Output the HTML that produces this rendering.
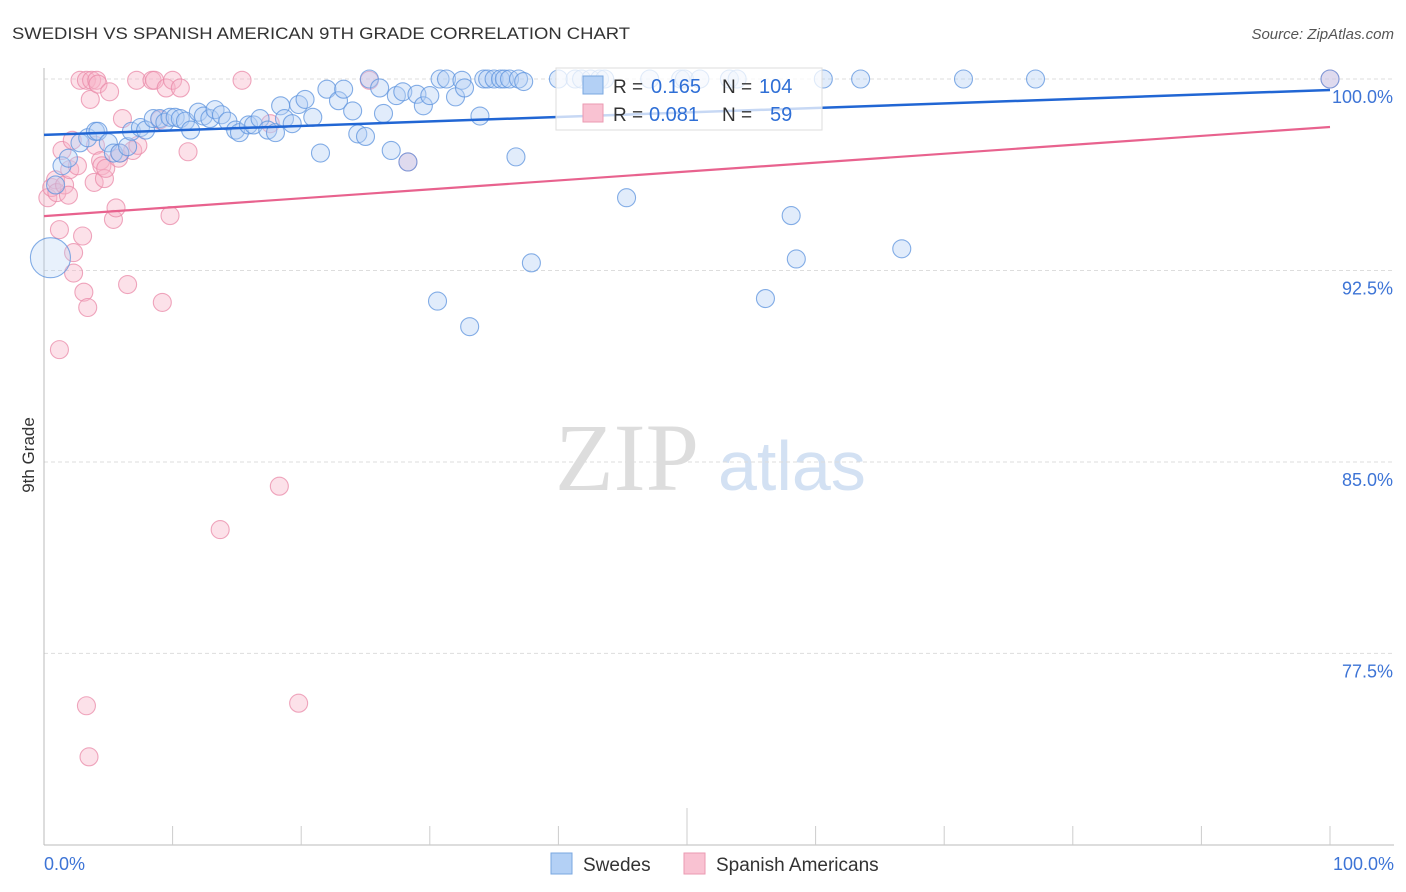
<!DOCTYPE html>
<html><head><meta charset="utf-8"><style>
body{margin:0;background:#fff;font-family:"Liberation Sans",sans-serif}
svg{display:block}
</style></head><body>
<svg id="c" width="1406" height="892" xmlns="http://www.w3.org/2000/svg">
<text x="12" y="39" font-size="17" fill="#333" textLength="618" lengthAdjust="spacingAndGlyphs">SWEDISH VS SPANISH AMERICAN 9TH GRADE CORRELATION CHART</text>
<text x="1394" y="39" font-size="15" fill="#555" font-style="italic" text-anchor="end">Source: ZipAtlas.com</text>
<text x="555" y="490" font-size="96" fill="#ddd" font-family="Liberation Serif,serif">ZIP</text>
<text x="718" y="490" font-size="70" fill="#d3e1f3">atlas</text>
<text transform="translate(34,455) rotate(-90)" font-size="17" fill="#333" text-anchor="middle">9th Grade</text>
<g id="grid"></g><g id="pts"></g><g id="lines"></g>
<g>
<rect x="556" y="68" width="266" height="62" fill="#fff" fill-opacity="0.75" stroke="#ddd"/>
<rect x="583" y="76" width="20" height="18" fill="#b3d0f5" stroke="#7aa7e0"/>
<rect x="583" y="104" width="20" height="18" fill="#f9c2d2" stroke="#eb9ab2"/>
<text x="613" y="93" font-size="19" fill="#333">R =</text>
<text x="651" y="93" font-size="20" fill="#2f6fd6">0.165</text>
<text x="722" y="93" font-size="19" fill="#333">N =</text>
<text x="759" y="93" font-size="20" fill="#2f6fd6">104</text>
<text x="613" y="121" font-size="19" fill="#333">R =</text>
<text x="649" y="121" font-size="20" fill="#2f6fd6">0.081</text>
<text x="722" y="121" font-size="19" fill="#333">N =</text>
<text x="770" y="121" font-size="20" fill="#2f6fd6">59</text>
</g>
<g>
<rect x="551" y="853" width="21" height="21" fill="#b3d0f5" stroke="#7aa7e0"/>
<text x="583" y="871" font-size="19" fill="#333">Swedes</text>
<rect x="684" y="853" width="21" height="21" fill="#f9c2d2" stroke="#eb9ab2"/>
<text x="716" y="871" font-size="19" fill="#333">Spanish Americans</text>
</g>
</svg>
<script>
const yTicks=[100,92.5,85,77.5];
const yTickLabels=["100.0%","92.5%","85.0%","77.5%"];
const xTickLabels=["0.0%","100.0%"];
const blueX=[0.5,0.9,1.4,1.9,2.8,3.4,4.0,4.2,5.0,5.4,5.9,6.5,6.8,7.5,7.9,8.5,9.0,9.4,9.8,10.2,10.6,11.0,11.4,12.0,12.4,12.9,13.3,13.8,14.3,14.9,15.2,15.9,16.3,16.8,17.4,18.0,18.4,18.7,19.3,19.8,20.3,20.9,21.5,22.0,22.9,23.3,24.0,24.4,25.0,25.3,26.1,26.4,27.0,27.4,27.9,28.3,29.0,29.5,30.0,30.6,30.8,31.3,32.0,32.5,32.7,33.1,33.9,34.2,34.5,35.0,35.5,35.8,36.2,36.7,36.9,37.3,37.9,40.0,41.3,41.8,42.5,43.2,43.6,45.3,47.1,49.5,49.8,51.0,53.3,53.9,56.1,58.1,58.5,60.6,63.5,66.7,71.5,77.1,100];
const blueY=[93.0,95.85,96.6,96.9,97.5,97.7,97.95,97.95,97.5,97.1,97.1,97.35,97.95,98.1,98.0,98.45,98.45,98.3,98.5,98.5,98.45,98.35,98.0,98.7,98.55,98.45,98.8,98.6,98.35,98.0,97.9,98.2,98.2,98.45,98.0,97.9,98.95,98.45,98.25,99.0,99.2,98.5,97.1,99.6,99.15,99.6,98.75,97.85,97.75,100,99.65,98.65,97.2,99.35,99.5,96.75,99.4,98.95,99.35,91.3,100,100,99.3,99.95,99.65,90.3,98.55,100,100,100,100,100,100,96.95,100,99.9,92.8,100,100,100,100,100,100,95.35,100,100,100,100,100,100,91.4,94.65,92.95,100,100,93.35,100,100,100];
const pinkX=[0.3,0.6,0.9,1.0,1.2,1.4,1.6,1.9,2.0,2.2,2.3,2.3,2.6,2.8,3.0,3.1,3.3,3.4,3.6,3.7,3.9,4.0,4.1,4.2,4.4,4.5,4.7,4.8,5.1,5.4,5.6,5.8,5.9,6.1,6.5,6.9,7.3,7.2,8.4,8.6,9.0,9.2,9.5,9.8,10.0,10.6,11.2,13.7,15.4,17.6,18.3,19.8,25.3,28.3,3.3,3.5,1.2,100];
const pinkY=[95.35,95.75,96.05,95.55,94.1,97.2,95.85,95.45,96.45,97.6,93.2,92.4,96.6,99.95,93.85,91.65,99.95,91.05,99.2,99.95,95.95,97.4,99.95,99.8,96.8,96.6,96.1,96.5,99.5,94.5,94.95,96.9,97.1,98.45,91.95,97.2,97.4,99.95,99.95,99.95,98.4,91.25,99.65,94.65,99.95,99.65,97.15,82.35,99.95,98.25,84.05,75.55,99.95,96.75,75.45,73.45,89.4,100];
const blueTrend=[97.81,99.57];
const pinkTrend=[94.63,98.12];
const NS="http://www.w3.org/2000/svg";
const X0=44,X1=1330,Y100=79,PX=25.53;
const sx=v=>X0+(X1-X0)*v/100, sy=v=>Y100+(100-v)*PX;
function mk(t,a,p){const e=document.createElementNS(NS,t);for(const k in a)e.setAttribute(k,a[k]);p.appendChild(e);return e;}
const grid=document.getElementById('grid');
yTicks.forEach((t,i)=>{
 const l=mk('line',{x1:44,x2:1394,y1:sy(t),y2:sy(t),stroke:'#ddd','stroke-dasharray':'4,3'},grid);
 
 
 const tx=mk('text',{x:1393,y:sy(t)+24,'font-size':18,fill:'#3d74d6','text-anchor':'end'},grid);
 tx.textContent=yTickLabels[i];
 
 
});
mk('line',{x1:44,x2:44,y1:68,y2:845,stroke:'#bbb'},grid);
const ax=mk('line',{x1:44,x2:1394,y1:845,y2:845,stroke:'#bbb'},grid);


for(let i=1;i<=10;i++){const x=sx(i*10);mk('line',{x1:x,x2:x,y1:i==5?808:826,y2:845,stroke:'#ccc'},grid);}
[[0,'start',44],[100,'end',1394]].forEach((d,i)=>{const t=mk('text',{x:d[2],y:870,'font-size':18,fill:'#3d74d6','text-anchor':d[1]},grid);t.textContent=xTickLabels[i];
 
 });
const pts=document.getElementById('pts');
function series(xs,ys,fill,stroke,name){xs.forEach((x,i)=>{
 const big=(name=='swedes-point'&&i==0);
 const c=mk('circle',{cx:sx(x),cy:sy(ys[i]),r:big?20:9,fill:fill,'fill-opacity':big?0.3:0.4,stroke:stroke,'stroke-opacity':0.75,'stroke-width':1.1},pts);
 
 
});}
series(pinkX,pinkY,'#f7b3c7','#ea8aa8','spanish-american-point');
series(blueX,blueY,'#b3d0f5','#5c93de','swedes-point');
const lines=document.getElementById('lines');
const bl=mk('line',{x1:sx(0),x2:sx(100),y1:sy(blueTrend[0]),y2:sy(blueTrend[1]),stroke:'#2166d4','stroke-width':2.5},lines);


const pl=mk('line',{x1:sx(0),x2:sx(100),y1:sy(pinkTrend[0]),y2:sy(pinkTrend[1]),stroke:'#e8628e','stroke-width':2.2},lines);


</script>
</body></html>
